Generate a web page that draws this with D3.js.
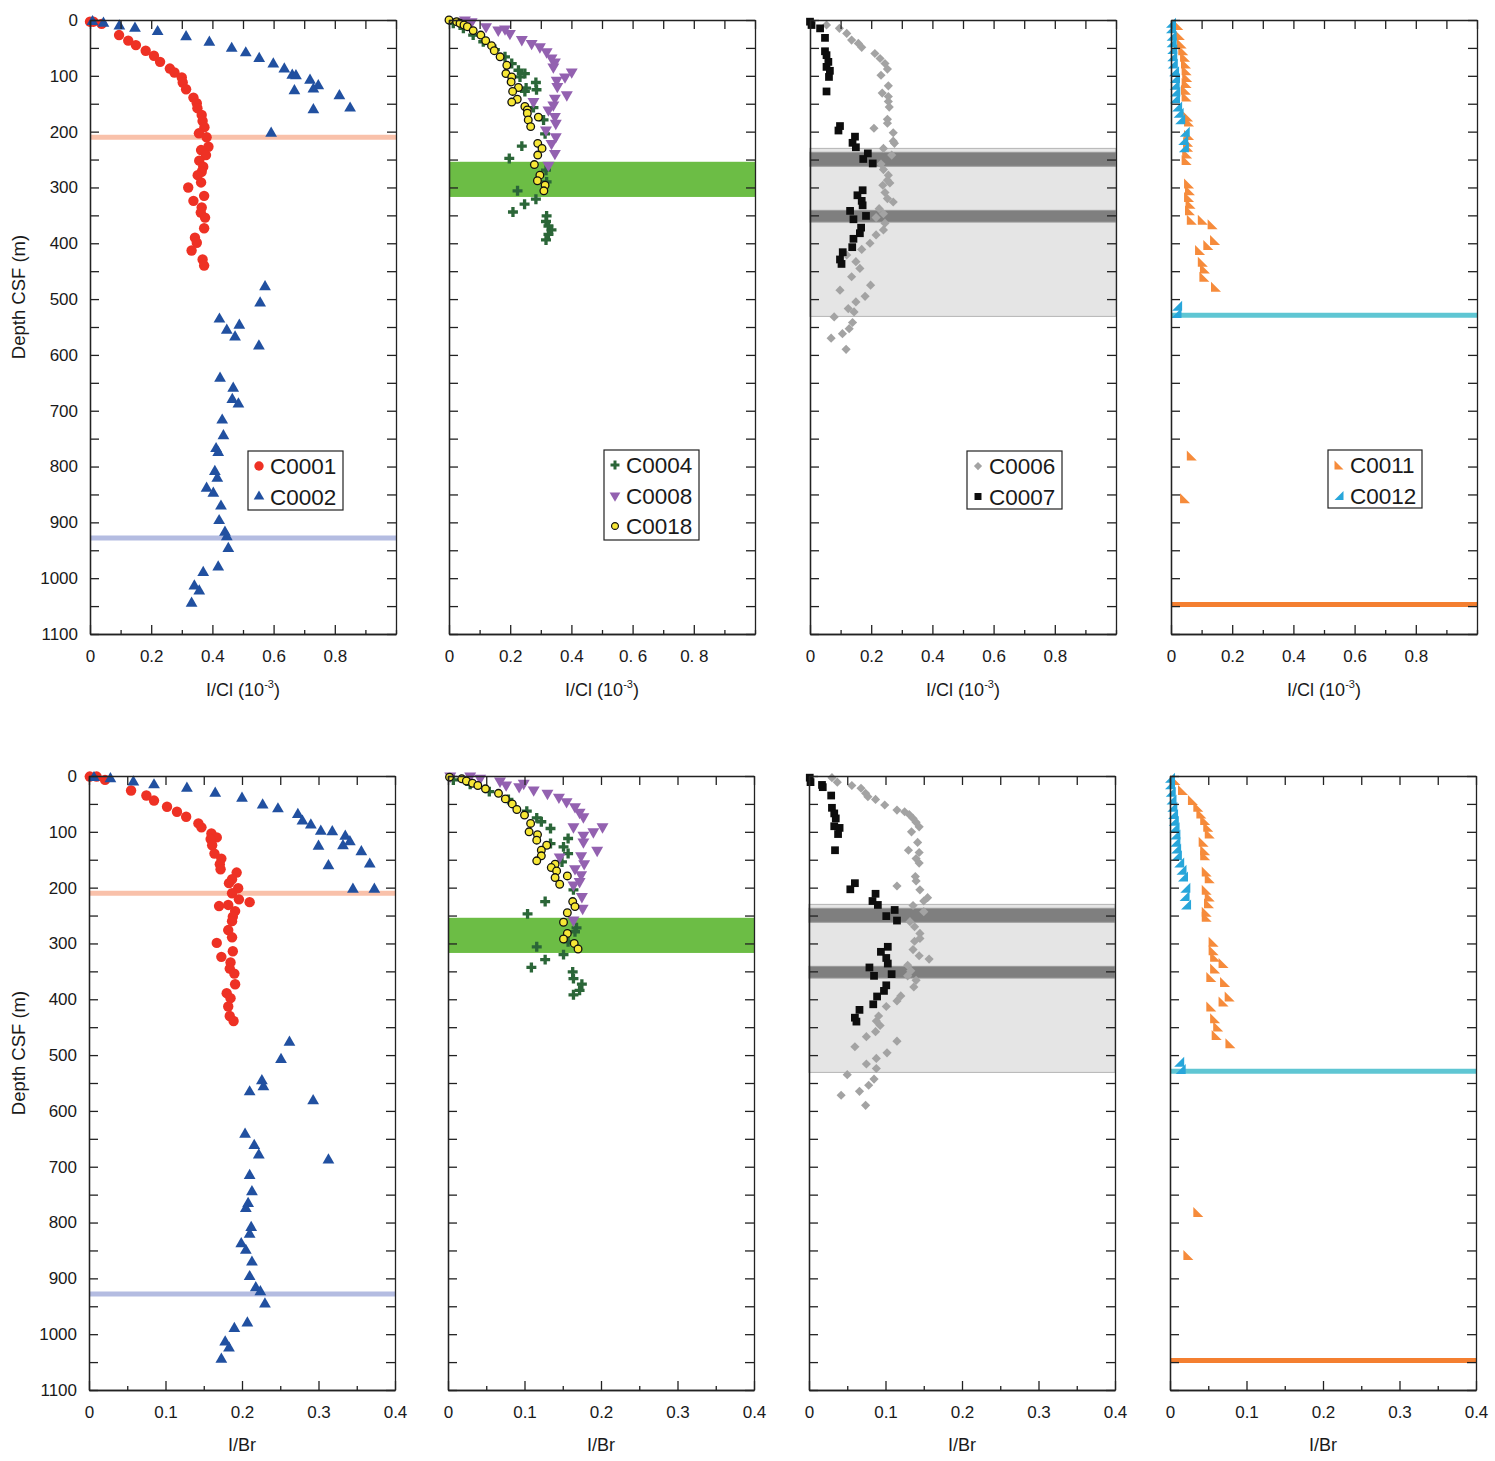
<!DOCTYPE html>
<html>
<head>
<meta charset="utf-8">
<script src="https://cdn.jsdelivr.net/npm/d3@7"></script>
<style>
  body { margin: 0; background: #fff; }
  text { font-family: "Liberation Sans", Arial, sans-serif; fill: #1a1a1a; }
</style>
</head>
<body>
<svg id="chart"></svg>
<script>
// ---- data: [value, depth m] ----
const c0001Cl = [[0,3],[0.011,3],[0.038,7],[0.095,27],[0.125,37],[0.150,45],[0.182,55],[0.209,64],[0.229,75],[0.261,87],[0.276,94],[0.300,103],[0.303,112],[0.314,124],[0.338,139],[0.349,149],[0.351,158],[0.365,170],[0.368,181],[0.374,192],[0.356,203],[0.381,210],[0.387,227],[0.363,233],[0.379,242],[0.357,252],[0.370,263],[0.365,272],[0.352,278],[0.363,291],[0.321,300],[0.373,315],[0.338,324],[0.365,336],[0.362,345],[0.376,354],[0.373,373],[0.343,390],[0.349,399],[0.332,413],[0.368,429],[0.373,440]];
const c0002Cl = [[0.008,3],[0.044,6],[0.096,11],[0.147,15],[0.221,21],[0.314,30],[0.390,40],[0.463,51],[0.509,59],[0.553,69],[0.599,79],[0.635,88],[0.661,99],[0.673,100],[0.719,108],[0.746,118],[0.730,124],[0.668,127],[0.815,136],[0.850,158],[0.730,161],[0.592,203],[0.572,478],[0.556,507],[0.423,536],[0.488,547],[0.447,556],[0.474,568],[0.552,584],[0.425,642],[0.468,660],[0.465,680],[0.485,688],[0.432,717],[0.436,745],[0.412,768],[0.419,775],[0.408,809],[0.416,821],[0.381,839],[0.403,848],[0.428,871],[0.422,897],[0.441,918],[0.447,926],[0.452,947],[0.419,980],[0.370,990],[0.341,1014],[0.357,1023],[0.332,1045]];
const c0001Br = [[0.001,1],[0.010,1],[0.021,7],[0.055,26],[0.075,35],[0.085,44],[0.102,55],[0.115,64],[0.127,73],[0.143,85],[0.147,92],[0.160,103],[0.167,110],[0.159,113],[0.161,124],[0.164,139],[0.173,148],[0.171,158],[0.172,167],[0.193,173],[0.187,185],[0.183,192],[0.195,201],[0.187,210],[0.196,221],[0.210,226],[0.182,231],[0.170,233],[0.191,242],[0.188,252],[0.187,260],[0.182,276],[0.187,289],[0.167,299],[0.188,314],[0.173,324],[0.185,334],[0.184,345],[0.190,354],[0.191,373],[0.180,389],[0.185,398],[0.182,413],[0.184,430],[0.189,439]];
const c0002Br = [[0.0065,3],[0.028,5],[0.058,11],[0.085,16],[0.128,22],[0.165,31],[0.200,40],[0.227,52],[0.247,59],[0.273,69],[0.279,81],[0.290,88],[0.303,99],[0.318,100],[0.335,108],[0.341,118],[0.332,125],[0.300,126],[0.356,136],[0.367,158],[0.313,161],[0.345,203],[0.373,203],[0.262,477],[0.251,508],[0.226,546],[0.228,557],[0.210,566],[0.293,582],[0.204,642],[0.216,662],[0.222,679],[0.313,688],[0.210,716],[0.213,745],[0.208,766],[0.205,775],[0.212,809],[0.210,821],[0.199,838],[0.205,850],[0.213,871],[0.210,897],[0.218,917],[0.224,924],[0.230,946],[0.207,980],[0.190,990],[0.178,1014],[0.183,1025],[0.173,1045]];

const c0004Cl = [[0.014,6],[0.047,15],[0.079,27],[0.112,39],[0.150,53],[0.183,66],[0.205,78],[0.227,90],[0.248,96],[0.232,102],[0.284,112],[0.252,122],[0.286,125],[0.248,128],[0.276,157],[0.309,179],[0.314,204],[0.238,226],[0.197,248],[0.317,269],[0.319,290],[0.224,306],[0.284,321],[0.247,330],[0.209,344],[0.319,351],[0.317,361],[0.325,369],[0.335,376],[0.325,384],[0.317,394]];
const c0008Cl = [[0.052,0],[0.074,3],[0.121,12],[0.161,18],[0.183,16],[0.199,24],[0.238,35],[0.270,42],[0.297,48],[0.319,57],[0.335,68],[0.346,75],[0.341,84],[0.401,93],[0.379,102],[0.352,108],[0.354,119],[0.385,134],[0.346,140],[0.276,146],[0.341,152],[0.325,161],[0.346,173],[0.349,185],[0.317,197],[0.349,209],[0.335,221],[0.346,239],[0.325,260]];
const c0018Cl = [[0,0],[0.025,3],[0.036,6],[0.049,9],[0.060,12],[0.079,19],[0.104,27],[0.120,37],[0.139,46],[0.148,55],[0.167,66],[0.189,81],[0.186,96],[0.205,102],[0.203,111],[0.227,121],[0.208,128],[0.223,142],[0.205,147],[0.248,155],[0.256,161],[0.256,167],[0.259,179],[0.292,174],[0.267,191],[0.290,221],[0.304,230],[0.290,242],[0.279,259],[0.297,278],[0.289,288],[0.314,296],[0.310,306]];
const c0004Br = [[0.007,7],[0.029,15],[0.054,28],[0.079,42],[0.103,63],[0.116,75],[0.122,82],[0.134,94],[0.157,112],[0.134,121],[0.151,127],[0.157,139],[0.149,154],[0.164,204],[0.127,225],[0.104,247],[0.168,272],[0.166,279],[0.157,297],[0.116,306],[0.151,320],[0.127,329],[0.109,343],[0.163,351],[0.164,363],[0.175,373],[0.172,384],[0.164,392]];
const c0008Br = [[0.003,0],[0.029,0],[0.042,4],[0.068,9],[0.076,16],[0.093,19],[0.099,13],[0.112,25],[0.130,31],[0.145,38],[0.155,46],[0.166,55],[0.172,65],[0.177,73],[0.164,91],[0.202,91],[0.190,100],[0.177,106],[0.177,118],[0.195,133],[0.174,143],[0.146,145],[0.178,157],[0.166,166],[0.174,177],[0.172,189],[0.164,195],[0.175,216],[0.176,237],[0.164,258]];
const c0018Br = [[0.002,2],[0.018,5],[0.024,9],[0.032,13],[0.039,17],[0.049,23],[0.066,31],[0.075,41],[0.084,50],[0.090,60],[0.100,70],[0.108,85],[0.106,100],[0.117,105],[0.116,115],[0.129,124],[0.122,133],[0.122,143],[0.116,152],[0.140,158],[0.135,164],[0.142,170],[0.140,182],[0.156,179],[0.146,194],[0.163,225],[0.166,234],[0.156,245],[0.151,262],[0.156,282],[0.151,292],[0.165,300],[0.170,310]];

const c0006Cl = [[0.054,9],[0.096,15],[0.120,24],[0.136,36],[0.158,42],[0.169,49],[0.212,60],[0.229,69],[0.245,78],[0.253,88],[0.232,99],[0.256,118],[0.236,131],[0.256,137],[0.256,146],[0.259,156],[0.253,178],[0.253,185],[0.209,194],[0.272,202],[0.272,217],[0.276,221],[0.240,230],[0.267,242],[0.232,258],[0.240,268],[0.256,278],[0.253,287],[0.261,292],[0.238,296],[0.245,309],[0.253,320],[0.272,326],[0.226,338],[0.240,347],[0.216,354],[0.245,364],[0.240,376],[0.216,385],[0.196,400],[0.169,411],[0.120,421],[0.150,433],[0.163,445],[0.136,460],[0.198,475],[0.098,484],[0.180,495],[0.150,505],[0.125,517],[0.144,523],[0.079,532],[0.139,542],[0.128,553],[0.106,562],[0.069,570],[0.118,590]];
const c0007Cl = [[0,3],[0.005,9],[0.033,15],[0.049,32],[0.049,56],[0.054,63],[0.060,75],[0.054,84],[0.065,91],[0.062,102],[0.054,128],[0.098,190],[0.093,198],[0.147,209],[0.139,220],[0.150,228],[0.189,239],[0.174,249],[0.205,257],[0.172,305],[0.155,314],[0.169,324],[0.172,332],[0.131,342],[0.142,357],[0.183,351],[0.167,372],[0.163,382],[0.142,392],[0.138,407],[0.107,416],[0.098,429],[0.103,437]];
const c0006Br = [[0.030,3],[0.037,11],[0.056,17],[0.068,22],[0.074,31],[0.077,37],[0.087,42],[0.099,52],[0.115,61],[0.125,64],[0.131,69],[0.136,76],[0.140,83],[0.144,91],[0.134,100],[0.142,119],[0.130,133],[0.144,137],[0.140,148],[0.144,156],[0.139,180],[0.140,188],[0.115,197],[0.145,204],[0.155,218],[0.150,224],[0.136,232],[0.150,243],[0.132,261],[0.138,270],[0.145,282],[0.145,291],[0.138,296],[0.136,311],[0.144,322],[0.157,328],[0.129,339],[0.133,349],[0.129,358],[0.140,366],[0.137,378],[0.120,394],[0.115,403],[0.101,413],[0.091,430],[0.088,439],[0.093,447],[0.087,458],[0.075,467],[0.115,475],[0.060,485],[0.102,496],[0.088,506],[0.075,516],[0.088,524],[0.050,535],[0.085,543],[0.078,554],[0.066,565],[0.042,572],[0.074,590]];
const c0007Br = [[0.001,3],[0.002,11],[0.017,16],[0.018,20],[0.029,35],[0.030,57],[0.033,67],[0.035,76],[0.033,90],[0.040,93],[0.038,104],[0.034,133],[0.060,192],[0.054,203],[0.087,211],[0.083,224],[0.090,231],[0.112,240],[0.101,251],[0.115,259],[0.103,306],[0.094,315],[0.101,326],[0.103,336],[0.079,343],[0.085,358],[0.108,355],[0.101,375],[0.098,385],[0.089,395],[0.084,409],[0.066,419],[0.060,433],[0.062,440]];

const c0011Cl = [[0.024,9],[0.029,27],[0.035,42],[0.040,54],[0.046,66],[0.049,78],[0.051,90],[0.053,102],[0.051,113],[0.049,125],[0.051,137],[0.056,173],[0.059,182],[0.059,206],[0.056,218],[0.056,227],[0.053,239],[0.051,251],[0.059,293],[0.062,305],[0.059,317],[0.064,329],[0.062,341],[0.068,358],[0.104,358],[0.136,366],[0.144,394],[0.122,403],[0.095,412],[0.104,433],[0.111,445],[0.109,460],[0.147,478],[0.068,780],[0.046,857]];
const c0012Cl = [[0.0,5],[0.0,15],[0.002,28],[0.002,40],[0.004,52],[0.004,65],[0.006,78],[0.010,92],[0.013,104],[0.012,116],[0.014,128],[0.013,140],[0.020,155],[0.025,166],[0.030,178],[0.045,200],[0.040,215],[0.042,228],[0.020,512],[0.018,525]];
const c0011Br = [[0.007,7],[0.017,25],[0.030,43],[0.037,55],[0.041,67],[0.046,79],[0.050,91],[0.052,103],[0.044,118],[0.046,133],[0.046,142],[0.048,171],[0.052,183],[0.048,204],[0.052,216],[0.051,228],[0.048,243],[0.048,252],[0.057,297],[0.057,312],[0.059,324],[0.070,335],[0.059,345],[0.054,360],[0.072,369],[0.078,395],[0.070,404],[0.054,413],[0.059,434],[0.063,449],[0.061,464],[0.079,479],[0.037,781],[0.024,858]];
const c0012Br = [[0.0,3],[0.0,15],[0.001,28],[0.002,42],[0.003,55],[0.004,68],[0.005,80],[0.006,92],[0.007,105],[0.007,118],[0.008,130],[0.009,142],[0.012,155],[0.015,168],[0.017,180],[0.020,200],[0.019,215],[0.021,230],[0.012,512],[0.014,525]];

// reference depths (m)
const c0001Line = 210, c0002Line = 928;
const c0004Band = [254, 317];
const c0006Zone = [230, 531];
const c0006Dark = [[237, 262], [341, 362]];
const c0012Line = 529, c0011Line = 1047;

// axis ticks
const depthTicks = [0, 100, 200, 300, 400, 500, 600, 700, 800, 900, 1000, 1100];
const depthMinor = [50, 150, 250, 350, 450, 550, 650, 750, 850, 950, 1050];
const clTicks = [0, 0.2, 0.4, 0.6, 0.8];
const clLabels = ["0", "0.2", "0.4", "0.6", "0.8"];
const clLabels2 = ["0", "0.2", "0.4", "0. 6", "0. 8"];
const clMinor = [0.1, 0.3, 0.5, 0.7, 0.9, 1.0];
const brTicks = [0, 0.1, 0.2, 0.3, 0.4];
const brLabels = ["0", "0.1", "0.2", "0.3", "0.4"];
const brMinor = [0.05, 0.15, 0.25, 0.35];

const width = 1495, height = 1461;
const svg = d3.select("#chart").attr("width", width).attr("height", height);

const colors = {
  red: "#ee3124", blue: "#2150a0", green: "#2b6638", purple: "#9361b0",
  yellow: "#f7e736", gray: "#a3a3a3", black: "#0d0d0d", orange: "#f68b3b", cyan: "#28a6da"
};

const markers = {
  C0001: { path: d3.symbol(d3.symbolCircle, 85)(), fill: colors.red },
  C0002: { path: d3.symbol(d3.symbolTriangle, 60)(), fill: colors.blue },
  C0004: { path: d3.symbol(d3.symbolCross, 55)(), fill: colors.green },
  C0008: { path: d3.symbol(d3.symbolTriangle, 62)(), fill: colors.purple, rotate: 180 },
  C0018: { path: d3.symbol(d3.symbolCircle, 46)(), fill: colors.yellow, stroke: "#111" },
  C0006: { path: d3.symbol(d3.symbolSquare, 42)(), fill: colors.gray, rotate: 45 },
  C0007: { path: d3.symbol(d3.symbolSquare, 60)(), fill: colors.black },
  C0011: { path: "M-5,-5L-5,5L5,5Z", fill: colors.orange },
  C0012: { path: "M5,-5L5,5L-5,5Z", fill: colors.cyan }
};

function drawMarks(g, data, key, x, y) {
  const m = markers[key];
  g.append("g").selectAll("path")
    .data(data)
    .enter()
    .append("path")
    .attr("d", m.path)
    .attr("transform", d => `translate(${x(d[0])},${y(d[1])})` + (m.rotate ? ` rotate(${m.rotate})` : ""))
    .attr("fill", m.fill)
    .attr("stroke", m.stroke || "none")
    .attr("stroke-width", m.stroke ? 1.3 : 0);
}

const colX = [90, 449, 810, 1171];
const panelW = 306;
const rows = [
  { top: 20, xMax: 1.0, ticks: clTicks, minor: clMinor, title: "cl" },
  { top: 776, xMax: 0.4, ticks: brTicks, minor: brMinor, title: "br" }
];

const panels = [
  // top row
  { row: 0, col: 0, series: [["C0001", c0001Cl], ["C0002", c0002Cl]], lines: [[c0001Line, "#f9c1aa"], [c0002Line, "#b4bce1"]],
    legend: { x: 248, y: 451, w: 95, h: 59, keys: ["C0001", "C0002"] } },
  { row: 0, col: 1, series: [["C0004", c0004Cl], ["C0008", c0008Cl], ["C0018", c0018Cl]], band: true, labels: clLabels2,
    legend: { x: 604, y: 450, w: 95, h: 90, keys: ["C0004", "C0008", "C0018"] } },
  { row: 0, col: 2, series: [["C0006", c0006Cl], ["C0007", c0007Cl]], zone: true,
    legend: { x: 967, y: 451, w: 95, h: 58, keys: ["C0006", "C0007"] } },
  { row: 0, col: 3, series: [["C0011", c0011Cl], ["C0012", c0012Cl]], lines: [[c0012Line, "#5fc6d3"], [c0011Line, "#f47f30"]],
    legend: { x: 1328, y: 450, w: 94, h: 58, keys: ["C0011", "C0012"] } },
  // bottom row
  { row: 1, col: 0, series: [["C0001", c0001Br], ["C0002", c0002Br]], lines: [[c0001Line, "#f9c1aa"], [c0002Line, "#b4bce1"]] },
  { row: 1, col: 1, series: [["C0004", c0004Br], ["C0008", c0008Br], ["C0018", c0018Br]], band: true },
  { row: 1, col: 2, series: [["C0006", c0006Br], ["C0007", c0007Br]], zone: true },
  { row: 1, col: 3, series: [["C0011", c0011Br], ["C0012", c0012Br]], lines: [[c0012Line, "#5fc6d3"], [c0011Line, "#f47f30"]] }
];

panels.forEach(p => {
  const r = rows[p.row];
  const x0 = colX[p.col] - p.row;
  const x = d3.scaleLinear().domain([0, r.xMax]).range([x0, x0 + panelW]);
  const y = d3.scaleLinear().domain([0, 1100]).range([r.top, r.top + 614]);
  const g = svg.append("g");

  // bands and reference lines
  if (p.band) {
    g.append("rect").attr("x", x(0)).attr("width", panelW)
      .attr("y", y(c0004Band[0])).attr("height", y(c0004Band[1]) - y(c0004Band[0]))
      .attr("fill", "#6cbd45");
  }
  if (p.zone) {
    g.append("rect").attr("x", x(0)).attr("width", panelW)
      .attr("y", y(c0006Zone[0])).attr("height", y(c0006Zone[1]) - y(c0006Zone[0]))
      .attr("fill", "#e5e5e5").attr("stroke", "#b5b5b5").attr("stroke-width", 1);
    c0006Dark.forEach(b => {
      g.append("rect").attr("x", x(0)).attr("width", panelW)
        .attr("y", y(b[0])).attr("height", y(b[1]) - y(b[0]))
        .attr("fill", "#7f7f7f").attr("stroke", "#9a9a9a").attr("stroke-width", 1);
    });
  }
  (p.lines || []).forEach(l => {
    g.append("line").attr("x1", x(0)).attr("x2", x(r.xMax))
      .attr("y1", y(l[0])).attr("y2", y(l[0]))
      .attr("stroke", l[1]).attr("stroke-width", 5);
  });

  p.series.forEach(s => drawMarks(g, s[1], s[0], x, y));

  // axes
  const labels = p.labels || (p.row === 0 ? clLabels : brLabels);
  const styleAxis = a => {
    a.attr("font-family", "Liberation Sans, Arial, sans-serif").attr("font-size", 17);
    a.selectAll("path, line").attr("stroke", "#222").attr("stroke-width", 1.3);
    a.selectAll("text").attr("fill", "#1a1a1a");
  };
  g.append("g").attr("transform", `translate(0,${y(1100)})`)
    .call(d3.axisBottom(x).tickValues(r.ticks).tickSize(-9).tickSizeOuter(0).tickPadding(16)
      .tickFormat((d, i) => labels[i]))
    .call(styleAxis);
  g.append("g").attr("transform", `translate(0,${y(1100)})`)
    .call(d3.axisBottom(x).tickValues(r.minor).tickSize(-4).tickSizeOuter(0).tickFormat(""))
    .call(styleAxis);
  g.append("g").attr("transform", `translate(0,${y(0)})`)
    .call(d3.axisTop(x).tickValues(r.ticks.concat(r.minor)).tickSize(-9).tickSizeOuter(0).tickFormat(""))
    .call(styleAxis);
  g.append("g").attr("transform", `translate(${x(0)},0)`)
    .call(d3.axisLeft(y).tickValues(depthTicks).tickSize(-9).tickSizeOuter(0).tickPadding(12)
      .tickFormat(d => p.col === 0 ? d : ""))
    .call(styleAxis);
  g.append("g").attr("transform", `translate(${x(0)},0)`)
    .call(d3.axisLeft(y).tickValues(depthMinor).tickSize(-9).tickSizeOuter(0).tickFormat(""))
    .call(styleAxis);
  g.append("g").attr("transform", `translate(${x(r.xMax)},0)`)
    .call(d3.axisRight(y).tickValues(depthTicks.concat(depthMinor)).tickSize(-9).tickSizeOuter(0).tickFormat(""))
    .call(styleAxis);

  // x-axis title
  const t = g.append("text")
    .attr("x", x0 + panelW / 2)
    .attr("y", p.row === 0 ? 696 : 1451)
    .attr("text-anchor", "middle")
    .attr("font-size", 18);
  if (r.title === "cl") {
    t.append("tspan").text("I/Cl (10");
    t.append("tspan").attr("font-size", 11).attr("dy", -8).text("-3");
    t.append("tspan").attr("dy", 8).text(")");
  } else {
    t.text("I/Br");
  }

  // legend
  if (p.legend) {
    const L = p.legend;
    const lg = g.append("g").attr("transform", `translate(${L.x},${L.y})`);
    lg.append("rect").attr("width", L.w).attr("height", L.h)
      .attr("fill", "#fff").attr("stroke", "#222").attr("stroke-width", 1.2);
    L.keys.forEach((k, i) => {
      const m = markers[k];
      const cy = 15 + i * 30.5;
      lg.append("path").attr("d", m.path)
        .attr("transform", `translate(11,${cy})` + (m.rotate ? ` rotate(${m.rotate})` : "") + " scale(0.9)")
        .attr("fill", m.fill).attr("stroke", m.stroke || "none").attr("stroke-width", m.stroke ? 1.3 : 0);
      lg.append("text").attr("x", 22).attr("y", cy + 8).attr("font-size", 22.5).text(k);
    });
  }
});

// depth titles
[297, 1053].forEach(cy => {
  svg.append("text")
    .attr("transform", `translate(25,${cy}) rotate(-90)`)
    .attr("text-anchor", "middle")
    .attr("font-size", 18.5)
    .text("Depth CSF (m)");
});
</script>
</body>
</html>
